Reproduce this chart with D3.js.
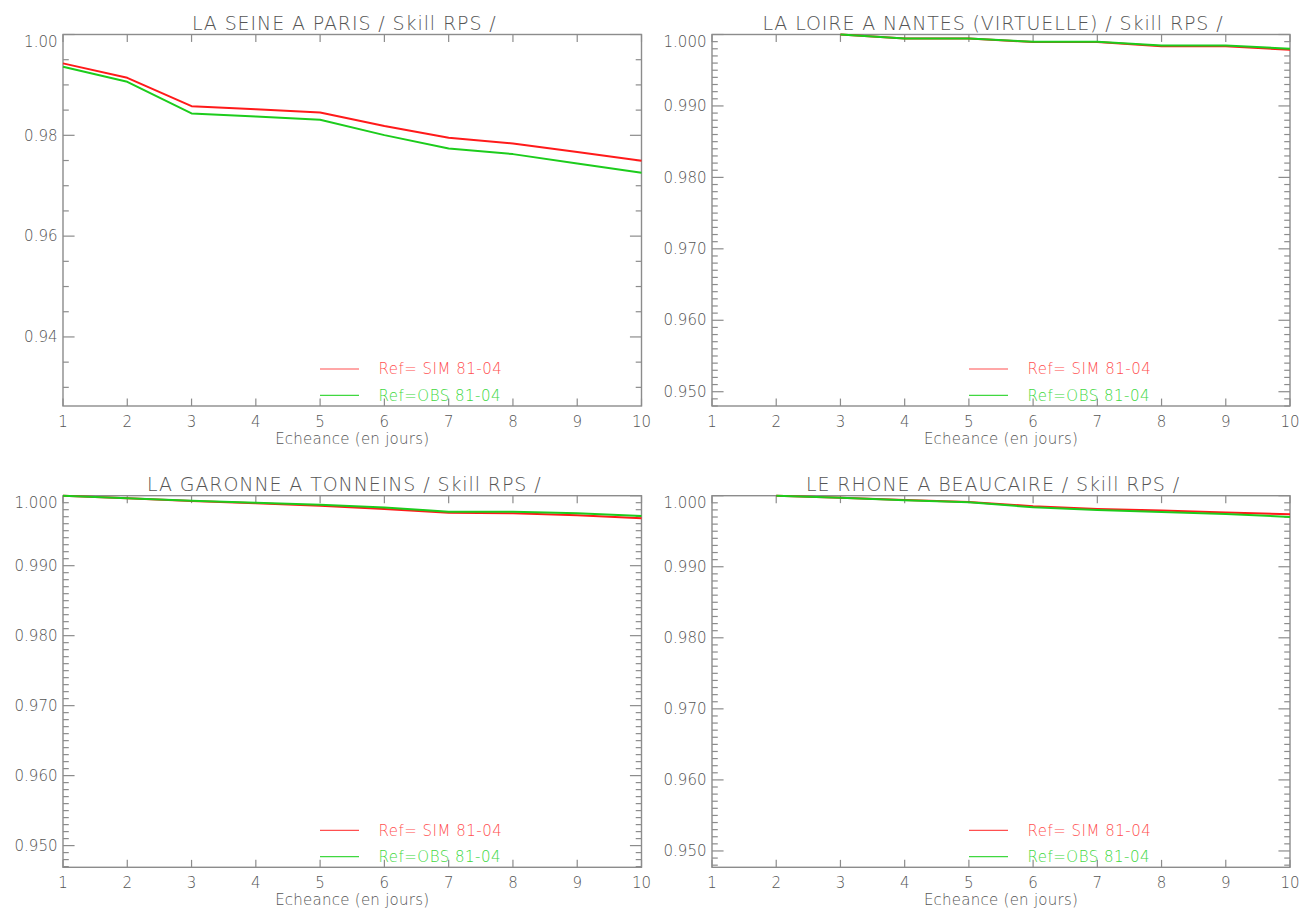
<!DOCTYPE html>
<html><head><meta charset="utf-8">
<script src="https://cdn.jsdelivr.net/npm/d3@7"></script>
<style>
body{margin:0;background:#fff}
text{font-family:"DejaVu Sans ExtraLight","DejaVu Sans",sans-serif;font-weight:200;fill:#555}
</style>
</head><body>
<svg id="c" width="1310" height="909"></svg>
<script>
const days = [1,2,3,4,5,6,7,8,9,10];
const titles = ["LA SEINE A PARIS / Skill RPS /", "LA LOIRE A NANTES (VIRTUELLE) / Skill RPS /",
                "LA GARONNE A TONNEINS / Skill RPS /", "LE RHONE A BEAUCAIRE / Skill RPS /"];
const xLabel = "Echeance (en jours)";
const legendLabels = ["Ref= SIM 81-04", "Ref=OBS 81-04"];

const seineSim   = [0.99427,0.99141,0.98579,0.98517,0.98454,0.98183,0.97950,0.97839,0.97667,0.97494];
const seineObs   = [0.99359,0.99062,0.98435,0.98371,0.98308,0.98004,0.97740,0.97627,0.97442,0.97256];
const loireSim   = [null,null,1.0000,0.99944,0.99944,0.99895,0.99895,0.99837,0.99837,0.99786];
const loireObs   = [null,null,1.0000,0.99944,0.99944,0.99898,0.99898,0.99847,0.99847,0.99800];
const garonneSim = [1.0000,0.99963,0.99925,0.99893,0.99857,0.99810,0.99757,0.99749,0.99720,0.99677];
const garonneObs = [1.0000,0.99963,0.99929,0.99900,0.99871,0.99833,0.99771,0.99771,0.99749,0.99710];
const rhoneSim   = [null,1.0000,0.99972,0.99941,0.99912,0.99852,0.99814,0.99792,0.99763,0.99739];
const rhoneObs   = [null,1.0000,0.99970,0.99937,0.99908,0.99838,0.99800,0.99772,0.99744,0.99701];

const yMin = [0.9263, 0.948, 0.9469, 0.9477];
const yMax = [1.000, 1.000, 1.000, 1.000];
const yMajor = [[0.94,0.96,0.98,1.00],
                [0.95,0.96,0.97,0.98,0.99,1.00],
                [0.95,0.96,0.97,0.98,0.99,1.00],
                [0.95,0.96,0.97,0.98,0.99,1.00]];
const yMinorStep = [0.005, 0.001, 0.001, 0.001];
const yDecimals = [2, 3, 3, 3];

const series = [[seineSim, seineObs],[loireSim, loireObs],[garonneSim, garonneObs],[rhoneSim, rhoneObs]];
const lineColors = ["#ff1a1a", "#1ccc1c"];
const legendColors = ["#ff5050", "#40d840"];

const panels = [
  {x0:63,  x1:641.5, y0:34.5,  y1:406},
  {x0:712, x1:1290,  y0:34.5,  y1:406},
  {x0:63,  x1:641.5, y0:495.7, y1:867.3},
  {x0:712, x1:1290,  y0:495.7, y1:867.3}
];

const svg = d3.select("#c");
const axisCol = "#8c8c8c";

panels.forEach((p, i) => {
  const g = svg.append("g");
  const x = d3.scaleLinear().domain([1,10]).range([p.x0, p.x1]);
  const y = d3.scaleLinear().domain([yMin[i], yMax[i]]).range([p.y1, p.y0]);
  const h = p.y1 - p.y0, w = p.x1 - p.x0;
  const xTickLen = 0.02*h, yTickLen = 0.02*w;

  g.append("rect").attr("x",p.x0).attr("y",p.y0).attr("width",w).attr("height",h)
    .attr("fill","none").attr("stroke",axisCol).attr("stroke-width",1.4);

  days.forEach(d => {
    g.append("line").attr("x1",x(d)).attr("x2",x(d)).attr("y1",p.y1).attr("y2",p.y1-xTickLen)
      .attr("stroke",axisCol).attr("stroke-width",1.2);
    g.append("line").attr("x1",x(d)).attr("x2",x(d)).attr("y1",p.y0).attr("y2",p.y0+xTickLen)
      .attr("stroke",axisCol).attr("stroke-width",1.2);
    g.append("text").attr("x",x(d)).attr("y",p.y1+20.5).attr("text-anchor","middle")
      .attr("font-size",15).text(d);
  });

  const step = yMinorStep[i];
  const kStart = Math.ceil(yMin[i]/step - 1e-6), kEnd = Math.floor(yMax[i]/step + 1e-6);
  for (let k = kStart; k <= kEnd; k++) {
    const v = k*step;
    const isMajor = yMajor[i].some(m => Math.abs(m - v) < step/10);
    const len = isMajor ? yTickLen : yTickLen/2;
    g.append("line").attr("x1",p.x0).attr("x2",p.x0+len).attr("y1",y(v)).attr("y2",y(v))
      .attr("stroke",axisCol).attr("stroke-width",1.2);
    g.append("line").attr("x1",p.x1).attr("x2",p.x1-len).attr("y1",y(v)).attr("y2",y(v))
      .attr("stroke",axisCol).attr("stroke-width",1.2);
  }
  yMajor[i].forEach(m => {
    const atTop = Math.abs(m - yMax[i]) < 1e-9;
    g.append("text").attr("x",p.x0-5.5).attr("y",y(m)+(atTop?12:5.2)).attr("text-anchor","end")
      .attr("font-size",15).text(m.toFixed(yDecimals[i]));
  });

  g.append("text").attr("x",(p.x0+p.x1)/2-8).attr("y",p.y0-4.5).attr("text-anchor","middle")
    .attr("font-size",19).attr("letter-spacing","0.9px").text(titles[i]);
  g.append("text").attr("x",(p.x0+p.x1)/2).attr("y",p.y1+37.5).attr("text-anchor","middle")
    .attr("font-size",15).attr("letter-spacing","0.25px").text(xLabel);

  const line = d3.line().defined(d => d[1] != null).x(d => x(d[0])).y(d => y(d[1]));
  series[i].forEach((s, j) => {
    g.append("path").datum(days.map((d, k) => [d, s[k]]))
      .attr("d", line).attr("fill","none").attr("stroke",lineColors[j])
      .attr("stroke-width",2).attr("stroke-linejoin","round");
  });

  const legY = [p.y1-37, p.y1-10.7];
  legendLabels.forEach((lab, j) => {
    g.append("line").attr("x1",p.x0+257).attr("x2",p.x0+296).attr("y1",legY[j]).attr("y2",legY[j])
      .attr("stroke",legendColors[j]).attr("stroke-width",1.2);
    g.append("text").attr("x",p.x0+315.5).attr("y",legY[j]+5.2).attr("font-size",15)
      .attr("letter-spacing","0.5px").style("fill",legendColors[j]).text(lab);
  });
});
</script>
</body></html>
